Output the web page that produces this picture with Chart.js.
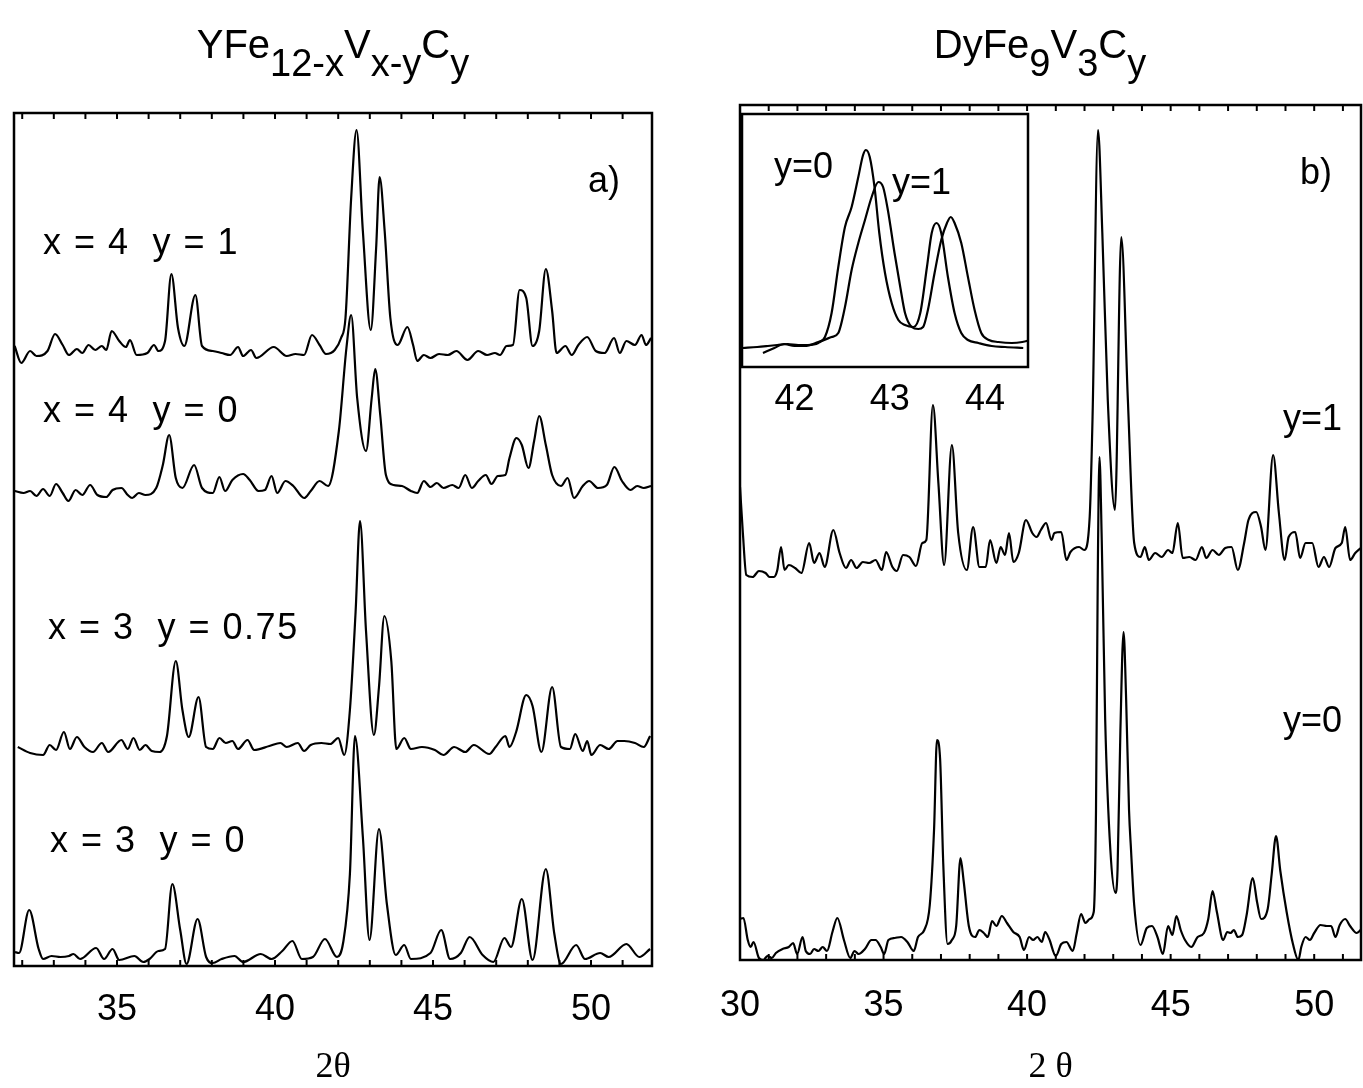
<!DOCTYPE html>
<html>
<head>
<meta charset="utf-8">
<script src="https://cdn.jsdelivr.net/npm/chart.js@4.4.1/dist/chart.umd.min.js"></script>
<style>
  html, body { margin: 0; padding: 0; background: #fff; }
  #wrap { position: relative; width: 1363px; height: 1088px; overflow: hidden;
          font-family: "Liberation Sans", Arial, sans-serif; color: #000; }
  canvas { position: absolute; left: 0; top: 0; }
  .t { position: absolute; white-space: pre; line-height: 1; transform: translateY(-50%); }
  .title { font-size: 40px; transform: translate(-50%, -50%); }
  .title span { position: relative; top: 18px; font-size: 38px; }
  .lab { font-size: 36px; letter-spacing: 1.5px; }
  .small { font-size: 36px; }
</style>
</head>
<body>
<div id="wrap">
  <canvas id="chart-a" width="1363" height="1088"></canvas>
  <canvas id="chart-b" width="1363" height="1088"></canvas>
  <canvas id="chart-inset" width="1363" height="1088"></canvas>

  <div class="t title" style="left:333px; top:44px">YFe<span>12-x</span>V<span>x-y</span>C<span>y</span></div>
  <div class="t title" style="left:1040px; top:44px">DyFe<span>9</span>V<span>3</span>C<span>y</span></div>

  <div class="t small" style="left:588px; top:180px">a)</div>
  <div class="t lab" style="left:43px; top:242px">x = 4  y = 1</div>
  <div class="t lab" style="left:43px; top:410px">x = 4  y = 0</div>
  <div class="t lab" style="left:48px; top:627px">x = 3  y = 0.75</div>
  <div class="t lab" style="left:50px; top:840px">x = 3  y = 0</div>

  <div class="t small" style="left:1300px; top:172px">b)</div>
  <div class="t small" style="left:1283px; top:418px">y=1</div>
  <div class="t small" style="left:1283px; top:720px">y=0</div>
  <div class="t small" style="left:774px; top:166px">y=0</div>
  <div class="t small" style="left:892px; top:182px">y=1</div>
</div>

<script>
'use strict';

// panel a) YFe12-xVx-yCy, stacked patterns [2theta, intensity (a.u., offset included)]
const aX4Y1 = [[31.76,620],[31.97,603],[32.25,615],[32.45,610],[32.80,615],[33.04,632],[33.28,621],[33.48,611],[33.73,617],[33.90,613],[34.10,621],[34.31,616],[34.52,620],[34.66,616],[34.83,635],[35.07,625],[35.28,619],[35.41,626],[35.62,611],[35.96,613],[36.17,621],[36.31,615],[36.52,625],[36.72,692],[36.93,638],[37.13,620],[37.48,671],[37.69,620],[38.03,615],[38.31,613],[38.58,611],[38.83,619],[38.99,610],[39.24,616],[39.41,608],[39.96,619],[40.37,610],[40.65,612],[40.92,611],[41.17,631],[41.41,621],[41.61,612],[41.89,616],[42.09,628],[42.23,648],[42.41,768],[42.58,836],[42.78,735],[43.03,636],[43.20,718],[43.31,789],[43.47,735],[43.65,648],[43.88,621],[44.19,639],[44.37,621],[44.50,605],[44.71,611],[44.92,608],[45.19,612],[45.47,611],[45.74,615],[46.09,606],[46.43,615],[46.71,611],[46.96,613],[47.12,611],[47.33,620],[47.53,621],[47.74,676],[47.95,668],[48.15,620],[48.36,635],[48.57,697],[48.77,655],[48.91,613],[49.19,620],[49.39,611],[49.60,621],[49.88,629],[50.15,615],[50.43,613],[50.73,628],[50.91,613],[51.12,625],[51.39,621],[51.60,631],[51.74,621],[51.90,628]];
const aX4Y0 = [[31.76,475],[32.04,473],[32.25,475],[32.45,470],[32.66,477],[32.87,470],[33.07,482],[33.28,473],[33.46,465],[33.69,476],[33.90,471],[34.15,481],[34.38,471],[34.66,469],[34.86,476],[35.14,478],[35.34,471],[35.48,468],[35.69,473],[35.90,471],[36.24,478],[36.45,501],[36.65,531],[36.86,488],[37.07,478],[37.44,501],[37.69,478],[38.03,473],[38.24,489],[38.42,475],[38.65,486],[38.99,492],[39.20,486],[39.48,475],[39.68,476],[39.89,490],[40.07,473],[40.33,485],[40.58,480],[40.92,468],[41.13,475],[41.41,485],[41.68,480],[42.02,535],[42.26,618],[42.41,651],[42.60,568],[42.88,515],[43.06,568],[43.17,597],[43.33,551],[43.51,491],[43.75,481],[44.02,480],[44.30,475],[44.50,473],[44.71,485],[44.92,479],[45.12,483],[45.33,478],[45.61,481],[45.81,478],[46.02,491],[46.23,478],[46.43,485],[46.67,491],[46.85,482],[47.05,490],[47.29,491],[47.42,508],[47.64,528],[47.81,521],[48.02,498],[48.20,525],[48.36,550],[48.57,521],[48.77,491],[49.05,480],[49.26,488],[49.46,468],[49.74,480],[49.94,485],[50.22,478],[50.50,481],[50.74,499],[50.98,485],[51.25,476],[51.46,480],[51.67,478],[51.90,480]];
const aX3Y075 = [[31.86,219],[32.25,213],[32.66,211],[32.87,221],[33.07,216],[33.32,234],[33.51,217],[33.73,229],[33.97,219],[34.24,214],[34.52,223],[34.72,214],[35.14,226],[35.34,217],[35.52,228],[35.72,216],[35.90,221],[36.10,215],[36.35,214],[36.58,230],[36.86,305],[37.07,256],[37.27,229],[37.58,269],[37.82,219],[38.03,217],[38.24,228],[38.44,223],[38.65,225],[38.83,217],[39.13,226],[39.34,216],[39.82,220],[40.17,223],[40.37,219],[40.72,223],[40.92,215],[41.13,221],[41.47,223],[41.75,222],[42.00,228],[42.19,211],[42.37,256],[42.55,354],[42.69,445],[42.88,335],[43.13,231],[43.29,279],[43.46,350],[43.68,305],[43.84,217],[44.09,228],[44.30,217],[44.65,219],[45.06,216],[45.33,211],[45.67,219],[46.02,214],[46.29,221],[46.78,212],[46.98,219],[47.29,230],[47.42,219],[47.63,234],[47.95,271],[48.15,260],[48.43,214],[48.77,279],[49.05,219],[49.33,217],[49.50,232],[49.74,215],[49.88,225],[50.01,211],[50.29,221],[50.56,217],[50.84,225],[51.05,225],[51.39,223],[51.67,219],[51.87,230]];
const aX3Y0 = [[31.76,14],[31.90,13],[32.22,56],[32.52,17],[32.66,7],[32.93,10],[33.21,9],[33.48,10],[33.62,12],[33.83,7],[34.34,18],[34.59,7],[34.86,17],[35.07,6],[35.55,10],[35.83,4],[36.03,7],[36.31,15],[36.52,17],[36.75,82],[37.00,36],[37.20,2],[37.55,47],[37.82,9],[38.03,3],[38.31,7],[38.72,10],[38.99,4],[39.55,12],[39.89,7],[40.23,15],[40.55,25],[40.85,7],[41.20,9],[41.58,27],[41.96,9],[42.16,24],[42.37,92],[42.53,230],[42.78,129],[42.99,26],[43.29,137],[43.54,62],[43.82,11],[44.09,21],[44.30,7],[44.92,13],[45.26,36],[45.54,7],[45.88,13],[46.16,29],[46.57,11],[46.91,4],[47.26,28],[47.47,19],[47.81,67],[48.15,6],[48.57,97],[48.84,32],[49.05,2],[49.53,21],[49.81,7],[50.29,13],[50.56,9],[51.12,22],[51.53,9],[51.87,17]];
const aTicks = [35, 40, 45, 50];

// panel b) DyFe9V3Cy
const bY1 = [[30.00,473],[30.10,427],[30.22,385],[30.44,383],[30.66,389],[30.89,387],[31.03,383],[31.18,383],[31.30,390],[31.43,413],[31.55,390],[31.70,395],[31.92,392],[32.14,387],[32.41,417],[32.58,397],[32.77,407],[32.95,393],[33.25,430],[33.47,407],[33.69,392],[33.87,400],[34.06,392],[34.28,398],[34.50,397],[34.72,400],[34.94,390],[35.09,408],[35.31,393],[35.46,389],[35.68,405],[35.90,403],[36.13,394],[36.35,417],[36.49,420],[36.72,555],[36.91,477],[37.11,395],[37.38,515],[37.60,427],[37.90,390],[38.12,433],[38.34,393],[38.56,393],[38.71,420],[38.93,397],[39.08,413],[39.23,405],[39.37,427],[39.52,398],[39.71,407],[39.96,440],[40.18,427],[40.33,423],[40.48,430],[40.66,437],[40.85,420],[40.95,427],[41.19,428],[41.37,400],[41.51,408],[41.81,413],[41.99,410],[42.18,443],[42.28,543],[42.47,830],[42.62,727],[42.81,560],[43.06,450],[43.28,723],[43.51,560],[43.73,417],[43.95,403],[44.10,413],[44.24,400],[44.46,407],[44.69,403],[44.91,410],[45.06,407],[45.25,437],[45.42,402],[45.65,403],[45.87,400],[46.09,413],[46.24,402],[46.46,410],[46.68,405],[46.90,412],[47.12,413],[47.34,390],[47.56,417],[47.71,440],[47.98,448],[48.15,433],[48.30,410],[48.57,505],[48.77,447],[48.97,400],[49.11,423],[49.34,428],[49.51,402],[49.70,417],[49.93,417],[50.15,393],[50.34,403],[50.52,393],[50.74,412],[50.96,417],[51.08,433],[51.25,400],[51.43,407],[51.62,412]];
const bY0 = [[30.00,41],[30.12,42],[30.27,20],[30.37,13],[30.47,18],[30.66,2],[30.81,0],[30.96,4],[31.11,2],[31.25,7],[31.48,11],[31.70,13],[31.85,17],[31.99,6],[32.18,23],[32.29,9],[32.44,6],[32.58,11],[32.73,9],[32.88,13],[33.03,9],[33.22,28],[33.39,42],[33.62,20],[33.84,2],[33.99,9],[34.13,6],[34.35,11],[34.58,20],[34.72,20],[34.90,13],[35.02,6],[35.17,20],[35.39,22],[35.61,23],[35.83,18],[36.05,9],[36.20,23],[36.42,30],[36.61,55],[36.76,131],[36.86,220],[36.97,201],[37.08,96],[37.23,16],[37.38,20],[37.53,34],[37.68,102],[37.79,79],[37.97,34],[38.19,23],[38.34,30],[38.49,27],[38.63,23],[38.78,39],[38.93,34],[39.12,44],[39.30,37],[39.52,28],[39.74,23],[39.89,10],[40.07,23],[40.21,20],[40.36,23],[40.51,18],[40.63,28],[40.77,21],[41.00,4],[41.19,16],[41.37,18],[41.59,9],[41.73,27],[41.88,46],[42.03,37],[42.18,41],[42.32,48],[42.40,150],[42.46,380],[42.52,503],[42.60,420],[42.72,240],[42.90,110],[43.08,67],[43.15,90],[43.25,230],[43.36,328],[43.45,260],[43.55,150],[43.62,110],[43.73,55],[43.95,15],[44.17,32],[44.35,34],[44.54,23],[44.73,6],[44.91,34],[45.06,25],[45.20,44],[45.35,30],[45.50,20],[45.72,13],[45.94,23],[46.16,27],[46.31,41],[46.46,69],[46.61,48],[46.83,20],[46.97,28],[47.09,27],[47.20,30],[47.34,23],[47.49,25],[47.64,44],[47.86,82],[48.01,58],[48.15,41],[48.38,51],[48.52,86],[48.67,124],[48.82,89],[49.04,48],[49.26,16],[49.45,0],[49.55,13],[49.70,23],[49.85,20],[50.00,27],[50.22,35],[50.44,34],[50.59,34],[50.74,23],[50.89,35],[51.08,41],[51.25,34],[51.48,27],[51.62,30]];
const bTicks = [30, 35, 40, 45, 50];

// inset of panel b), 42-44 deg
const insetY0 = [[41.46,19],[41.61,20],[41.72,21],[41.82,22],[41.93,23],[42.04,22],[42.14,22],[42.25,24],[42.32,30],[42.39,54],[42.46,100],[42.53,140],[42.60,160],[42.67,190],[42.72,212],[42.75,217],[42.79,210],[42.84,180],[42.89,134],[42.95,94],[43.02,64],[43.09,47],[43.16,42],[43.25,40],[43.32,54],[43.39,100],[43.44,134],[43.49,144],[43.54,134],[43.61,90],[43.68,54],[43.75,34],[43.82,27],[43.93,24],[44.07,21],[44.21,20],[44.40,19]];
const insetY1 = [[41.67,14],[41.79,19],[41.89,23],[42.00,21],[42.11,21],[42.25,25],[42.39,30],[42.46,34],[42.53,60],[42.60,97],[42.67,124],[42.74,147],[42.81,170],[42.88,185],[42.93,180],[42.98,157],[43.05,114],[43.11,80],[43.16,54],[43.23,40],[43.30,38],[43.35,40],[43.40,57],[43.47,94],[43.54,127],[43.60,144],[43.64,150],[43.68,144],[43.75,124],[43.82,90],[43.89,57],[43.96,34],[44.04,27],[44.14,25],[44.28,24],[44.39,25],[44.51,28]];
const insetTicks = [42, 43, 44];

const SANS = '"Liberation Sans", Arial, sans-serif';
const SERIF = '"Liberation Serif", "Times New Roman", serif';

// box around the plot area + inward minor ticks every degree
const framePlugin = {
  id: 'frame',
  beforeDatasetsDraw(chart, args, opts) {
    if (!opts.fill) return;
    const a = chart.chartArea, ctx = chart.ctx;
    ctx.save();
    ctx.fillStyle = '#fff';
    ctx.fillRect(a.left, a.top, a.right - a.left, a.bottom - a.top);
    ctx.restore();
  },
  afterDatasetsDraw(chart, args, opts) {
    const a = chart.chartArea, ctx = chart.ctx, x = chart.scales.x;
    ctx.save();
    ctx.strokeStyle = '#000';
    ctx.lineWidth = 2.5;
    ctx.strokeRect(a.left, a.top, a.right - a.left, a.bottom - a.top);
    if (opts.tick) {
      ctx.lineWidth = 2;
      ctx.beginPath();
      for (let v = Math.ceil(x.min); v <= x.max; v++) {
        const px = x.getPixelForValue(v);
        ctx.moveTo(px, a.top); ctx.lineTo(px, a.top + opts.tick);
        ctx.moveTo(px, a.bottom); ctx.lineTo(px, a.bottom - opts.tick);
      }
      ctx.stroke();
    }
    ctx.restore();
  }
};

function lineSet(pts) {
  return {
    data: pts.map(p => ({ x: p[0], y: p[1] })),
    borderColor: '#000',
    borderWidth: 2.2,
    pointRadius: 0,
    fill: false,
    cubicInterpolationMode: 'monotone'
  };
}

function makeChart(id, series, o) {
  return new Chart(document.getElementById(id), {
    type: 'line',
    data: { datasets: series.map(lineSet) },
    options: {
      responsive: false,
      animation: false,
      events: [],
      layout: { padding: o.pad },
      plugins: {
        legend: { display: false },
        tooltip: { enabled: false },
        frame: { tick: o.tick, fill: o.fill }
      },
      scales: {
        x: {
          type: 'linear', min: o.xmin, max: o.xmax,
          grid: { display: false }, border: { display: false },
          ticks: { autoSkip: false, maxRotation: 0, color: '#000', padding: o.tickPad,
                   font: { family: SANS, size: 36 } },
          afterBuildTicks(s) { s.ticks = o.ticks.map(v => ({ value: v })); },
          title: { display: !!o.title, text: o.title || '', color: '#000', padding: 0,
                   font: { family: SERIF, size: 36, lineHeight: 1 } },
          afterFit(s) { s.height = o.axisH; }
        },
        y: { display: false, min: 0, max: o.ymax }
      }
    },
    plugins: [framePlugin]
  });
}

makeChart('chart-a', [aX4Y1, aX4Y0, aX3Y075, aX3Y0], {
  xmin: 31.74, xmax: 51.93, ticks: aTicks, ymax: 853, tick: 6, tickPad: 14,
  title: '2θ', axisH: 120, pad: { left: 14, right: 711, top: 113, bottom: 2 }
});

makeChart('chart-b', [bY1, bY0], {
  xmin: 30, xmax: 51.63, ticks: bTicks, ymax: 855, tick: 6, tickPad: 16,
  title: '2 θ', axisH: 126, pad: { left: 740, right: 2, top: 105, bottom: 2 }
});

makeChart('chart-inset', [insetY0, insetY1], {
  xmin: 41.45, xmax: 44.45, ticks: insetTicks, ymax: 253, tick: 0, tickPad: 3, fill: true,
  axisH: 60, pad: { left: 742, right: 335, top: 114, bottom: 661 }
});
</script>
</body>
</html>
